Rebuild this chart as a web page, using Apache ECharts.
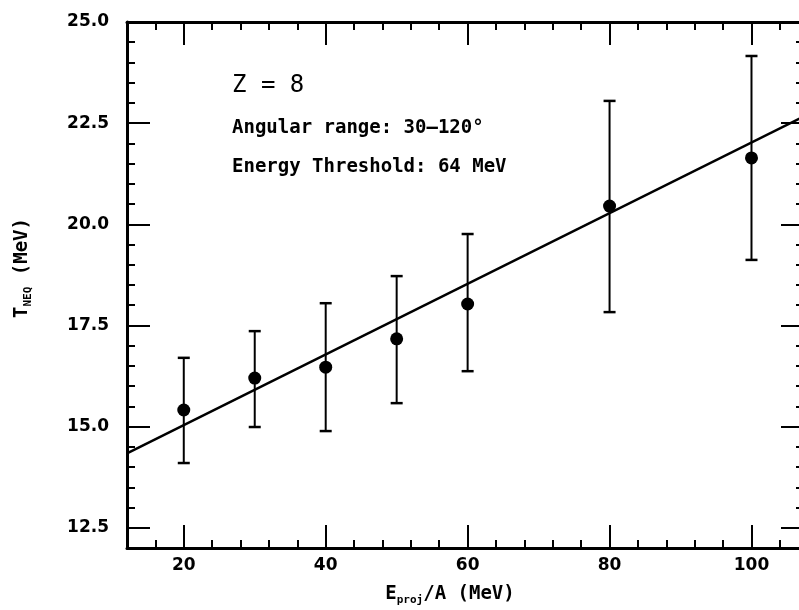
<!DOCTYPE html>
<html><head><meta charset="utf-8">
<script src="https://cdn.jsdelivr.net/npm/echarts@6/dist/echarts.min.js"></script>
<style>html,body{margin:0;padding:0;background:#fff;overflow:hidden;width:799px;height:610px}#c{width:812px;height:610px}</style>
</head><body><div id="c"></div>
<script>
// ---- data ----
const energies = [20, 30, 40, 50, 60, 80, 100];
const temps    = [15.41, 16.20, 16.47, 17.17, 18.03, 20.45, 21.64];
const errLow   = [14.10, 14.99, 14.89, 15.58, 16.37, 17.83, 19.12];
const errHigh  = [16.70, 17.36, 18.05, 18.72, 19.76, 23.05, 24.16];
const fitX = [12, 108];
const fitY = [14.34, 22.72];
const xMajorTicks = [20, 40, 60, 80, 100];
const yMajorTicks = [12.5, 15, 17.5, 20, 22.5, 25];
const xRange = [12, 107.4];
const yRange = [12, 25];

const chart = echarts.init(document.getElementById('c'), null, {renderer: 'canvas'});
const labelFont = {fontFamily: 'DejaVu Sans', fontWeight: 'bold', fontSize: 17, color: '#000'};

function xAx(pos, major) {
  return {
    type: 'value', position: pos, min: xRange[0], max: xRange[1],
    interval: major ? undefined : 4,
    splitLine: {show: false},
    axisLine: {show: !major, onZero: false, lineStyle: {color: '#000', width: 3}},
    axisTick: major
      ? {show: true, inside: true, length: 23, customValues: xMajorTicks, lineStyle: {color: '#000', width: 2}}
      : {show: true, inside: true, length: 8, lineStyle: {color: '#000', width: 2}},
    axisLabel: (major && pos === 'bottom')
      ? Object.assign({show: true, customValues: xMajorTicks, margin: 9}, labelFont)
      : {show: false}
  };
}
function yAx(pos, major) {
  return {
    type: 'value', position: pos, min: yRange[0], max: yRange[1],
    interval: major ? undefined : 0.5,
    splitLine: {show: false},
    axisLine: {show: !major, onZero: false, lineStyle: {color: '#000', width: 3}},
    axisTick: major
      ? {show: true, inside: true, length: 23, customValues: yMajorTicks, lineStyle: {color: '#000', width: 2}}
      : {show: true, inside: true, length: 8, lineStyle: {color: '#000', width: 2}},
    axisLabel: (major && pos === 'left')
      ? Object.assign({show: true, customValues: yMajorTicks, margin: 18, formatter: v => v.toFixed(1)}, labelFont)
      : {show: false}
  };
}

const option = {
  animation: false,
  backgroundColor: '#fff',
  grid: {left: 127, top: 22, width: 677, height: 526, containLabel: false},
  xAxis: [xAx('bottom', false), xAx('bottom', true), xAx('top', false), xAx('top', true)],
  yAxis: [yAx('left', false), yAx('left', true), yAx('right', false), yAx('right', true)],
  graphic: [
    {type: 'text', left: 232, top: 74, style: {text: 'Z = 8', font: '24px "DejaVu Sans Mono"', fill: '#000'}},
    {type: 'text', left: 232, top: 119, style: {text: 'Angular range: 30\u2013120\u00b0', font: 'bold 19px "DejaVu Sans Mono"', fill: '#000'}},
    {type: 'text', left: 232, top: 158, style: {text: 'Energy Threshold: 64 MeV', font: 'bold 19px "DejaVu Sans Mono"', fill: '#000'}},
    {type: 'text', x: 22, y: 268, rotation: Math.PI / 2,
      style: {
        text: '{a|T}{s|NEQ}{a| (MeV)}', align: 'center', verticalAlign: 'middle', fill: '#000',
        rich: {
          a: {fontFamily: 'DejaVu Sans Mono', fontWeight: 'bold', fontSize: 19, lineHeight: 24, verticalAlign: 'middle'},
          s: {fontFamily: 'DejaVu Sans Mono', fontWeight: 'bold', fontSize: 11, lineHeight: 24, verticalAlign: 'bottom'}
        }
      }},
    {type: 'text', x: 450, y: 594,
      style: {
        text: '{a|E}{s|proj}{a|/A (MeV)}', align: 'center', verticalAlign: 'middle', fill: '#000',
        rich: {
          a: {fontFamily: 'DejaVu Sans Mono', fontWeight: 'bold', fontSize: 19, lineHeight: 24, verticalAlign: 'middle'},
          s: {fontFamily: 'DejaVu Sans Mono', fontWeight: 'bold', fontSize: 11, lineHeight: 24, verticalAlign: 'bottom'}
        }
      }}
  ],
  series: [
    {
      type: 'line', xAxisIndex: 0, yAxisIndex: 0, symbol: 'none', z: 3,
      data: fitX.map((x, i) => [x, fitY[i]]),
      lineStyle: {color: '#000', width: 2.5}
    },
    {
      type: 'custom', xAxisIndex: 0, yAxisIndex: 0, z: 4,
      data: energies.map((x, i) => [x, errLow[i], errHigh[i]]),
      encode: {x: 0, y: [1, 2]},
      renderItem: function (params, api) {
        const x = api.value(0);
        const pLo = api.coord([x, api.value(1)]);
        const pHi = api.coord([x, api.value(2)]);
        const w = 6;
        const st = {stroke: '#000', lineWidth: 2};
        return {type: 'group', children: [
          {type: 'line', shape: {x1: pLo[0], y1: pLo[1], x2: pHi[0], y2: pHi[1]}, style: st},
          {type: 'line', shape: {x1: pLo[0] - w, y1: pLo[1], x2: pLo[0] + w, y2: pLo[1]}, style: {stroke: '#000', lineWidth: 2.5}},
          {type: 'line', shape: {x1: pHi[0] - w, y1: pHi[1], x2: pHi[0] + w, y2: pHi[1]}, style: {stroke: '#000', lineWidth: 2.5}}
        ]};
      }
    },
    {
      type: 'scatter', xAxisIndex: 0, yAxisIndex: 0, z: 5,
      symbol: 'circle', symbolSize: 13,
      itemStyle: {color: '#000', opacity: 1},
      data: energies.map((x, i) => [x, temps[i]])
    }
  ]
};
chart.setOption(option);
</script>
</body></html>
